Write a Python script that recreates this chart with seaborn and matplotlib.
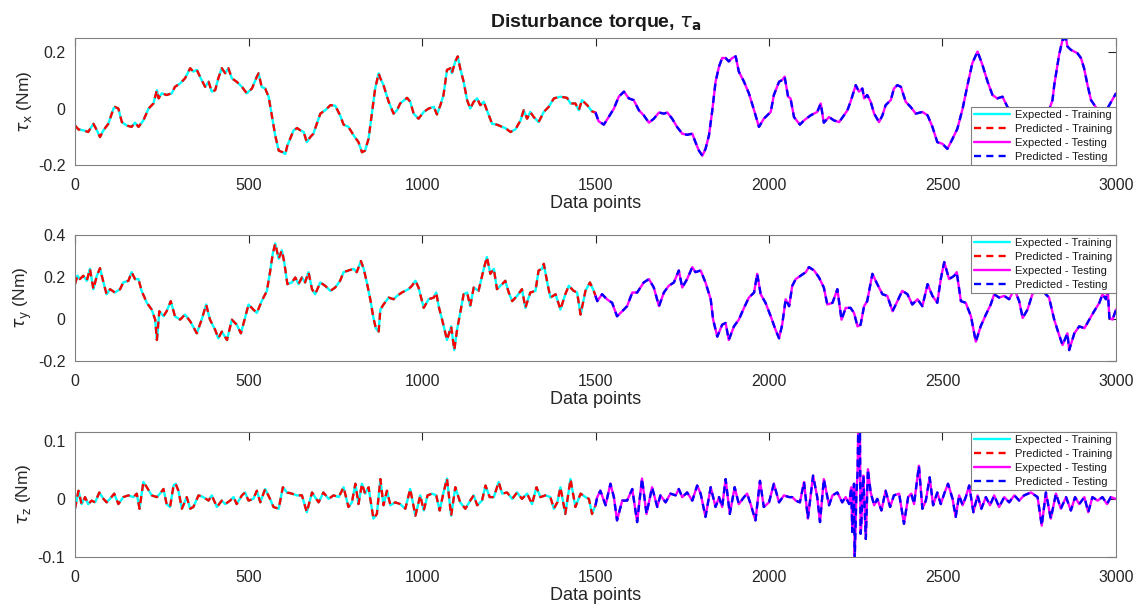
import numpy as np
import pandas as pd
import matplotlib
matplotlib.use("Agg")
import matplotlib.pyplot as plt
import seaborn as sns
from matplotlib.ticker import FormatStrFormatter

# ---------------- data ----------------
split_point = 1500

tx_idx = [0, 10, 24, 38, 53, 63, 72, 82, 96, 111, 115, 125, 135, 149, 163, 173, 183, 197, 212, 226, 236, 241, 250, 264, 279, 288, 303, 317, 332, 341, 351, 365, 375, 385, 394, 404, 413, 423, 433, 442, 452, 466, 481, 495, 510, 524, 529, 538, 548, 558, 567, 577, 587, 599, 606, 612, 620, 630, 640, 649, 659, 668, 678, 687, 697, 707, 721, 736, 750, 764,
          774, 788, 803, 817, 827, 836, 846, 856, 865, 875, 880, 889, 904, 918, 928, 937, 957, 966, 976, 990, 1005, 1019, 1034, 1043, 1053, 1062, 1072, 1082, 1086, 1096, 1103, 1110, 1120, 1130, 1139, 1149, 1159, 1168, 1178, 1187, 1202, 1216, 1231, 1240, 1255, 1269, 1284, 1293, 1303, 1312, 1322, 1336, 1351, 1365, 1380, 1399, 1418, 1428, 1442, 1452, 1461, 1476, 1490, 1500,
          1509, 1524, 1538, 1553, 1567, 1582, 1596, 1610, 1625, 1639, 1654, 1668, 1683, 1697, 1707, 1721, 1735, 1750, 1764, 1779, 1788, 1798, 1808, 1817, 1827, 1836, 1846, 1856, 1865, 1875, 1884, 1894, 1904, 1913, 1928, 1942, 1957, 1971, 1985, 2005, 2014, 2029, 2038, 2045, 2055, 2062, 2072, 2089, 2101, 2120, 2139, 2149, 2158, 2173, 2187, 2202, 2216, 2226, 2235, 2250,
          2259, 2269, 2274, 2283, 2293, 2303, 2317, 2327, 2336, 2351, 2360, 2370, 2380, 2394, 2408, 2423, 2442, 2457, 2471, 2485, 2500, 2514, 2529, 2543, 2558, 2572, 2586, 2601, 2615, 2630, 2644, 2658, 2673, 2687, 2710, 2740, 2770, 2800, 2817, 2822, 2836, 2846, 2856, 2860, 2870, 2889, 2899, 2908, 2918, 2928, 2950, 2975, 3000]
tx_val = [-0.060, -0.074, -0.077, -0.083, -0.054, -0.077, -0.101, -0.077, -0.054, 0.000, 0.006, 0.000, -0.048, -0.060, -0.065, -0.050, -0.065, -0.042, 0.000, 0.018, 0.065, 0.036, 0.054, 0.048, 0.054, 0.077, 0.089, 0.107, 0.143, 0.131, 0.137, 0.101, 0.077, 0.095, 0.060, 0.065, 0.107, 0.143, 0.125, 0.143, 0.107, 0.095, 0.077, 0.054, 0.071, 0.113, 0.125, 0.077, 0.071, 0.042, -0.024, -0.095, -0.149, -0.155, -0.161, -0.131, -0.107, -0.077, -0.069, -0.077, -0.083, -0.119, -0.101, -0.089, -0.054, -0.018, -0.006, 0.012, 0.010, -0.024,
          -0.057, -0.065, -0.095, -0.119, -0.155, -0.149, -0.107, -0.012, 0.071, 0.125, 0.107, 0.083, 0.024, -0.018, -0.006, 0.018, 0.038, 0.024, -0.018, -0.036, -0.012, 0.000, 0.006, -0.021, 0.012, 0.048, 0.137, 0.143, 0.125, 0.167, 0.185, 0.143, 0.095, 0.030, 0.000, 0.024, 0.036, 0.012, 0.024, -0.006, -0.054, -0.057, -0.065, -0.069, -0.083, -0.074, -0.042, -0.006, -0.036, -0.012, -0.030, -0.048, -0.012, 0.006, 0.036, 0.042, 0.038, 0.018, 0.018, -0.006, 0.030, 0.012, -0.010, -0.014,
          -0.045, -0.057, -0.030, 0.000, 0.042, 0.060, 0.036, 0.030, -0.006, -0.024, -0.050, -0.036, -0.014, -0.018, -0.014, -0.036, -0.065, -0.089, -0.093, -0.089, -0.119, -0.149, -0.167, -0.143, -0.095, -0.012, 0.095, 0.149, 0.179, 0.179, 0.167, 0.179, 0.185, 0.131, 0.095, 0.054, -0.006, -0.065, -0.036, -0.012, 0.048, 0.095, 0.101, 0.113, 0.042, 0.036, -0.030, -0.057, -0.042, -0.024, -0.012, 0.018, -0.050, -0.030, -0.042, -0.048, -0.024, -0.006, 0.024, 0.083,
          0.060, 0.071, 0.036, 0.048, 0.024, -0.018, -0.048, -0.024, 0.012, 0.030, 0.071, 0.083, 0.077, 0.024, 0.006, -0.018, -0.012, -0.024, -0.065, -0.119, -0.125, -0.143, -0.107, -0.071, 0.000, 0.083, 0.161, 0.202, 0.155, 0.095, 0.048, 0.036, 0.042, 0.006, -0.030, -0.060, -0.070, -0.030, 0.030, 0.083, 0.190, 0.244, 0.248, 0.220, 0.208, 0.196, 0.179, 0.143, 0.083, 0.030, -0.010, 0.000, 0.054]

ty_idx = [0, 7, 14, 24, 34, 43, 53, 63, 72, 82, 91, 101, 115, 130, 139, 154, 163, 173, 183, 192, 207, 221, 231, 236, 243, 255, 264, 276, 288, 303, 317, 332, 351, 365, 378, 389, 404, 413, 423, 438, 452, 466, 478, 490, 500, 514, 524, 538, 553, 562, 570, 577, 587, 596, 603, 612, 625, 635, 644, 654, 663, 673, 683, 692, 707, 721, 736, 750, 764,
          774, 788, 803, 812, 824, 832, 841, 851, 860, 867, 875, 880, 889, 904, 918, 928, 942, 961, 971, 981, 990, 1005, 1019, 1034, 1041, 1048, 1058, 1072, 1084, 1093, 1101, 1110, 1120, 1130, 1139, 1149, 1163, 1178, 1187, 1197, 1207, 1216, 1231, 1240, 1250, 1260, 1274, 1288, 1298, 1312, 1327, 1336, 1346, 1351, 1361, 1370, 1385, 1399, 1413, 1423, 1437, 1447, 1457, 1471, 1484, 1495, 1500,
          1505, 1519, 1533, 1548, 1562, 1577, 1591, 1606, 1620, 1639, 1654, 1668, 1683, 1697, 1711, 1726, 1740, 1750, 1764, 1779, 1788, 1803, 1817, 1832, 1839, 1851, 1865, 1875, 1884, 1899, 1913, 1928, 1942, 1957, 1966, 1976, 1990, 2005, 2019, 2029, 2038, 2048, 2058, 2067, 2077, 2091, 2106, 2115, 2130, 2144, 2158, 2168, 2183, 2197, 2209, 2221, 2235,
          2245, 2255, 2264, 2274, 2283, 2298, 2312, 2327, 2341, 2356, 2370, 2384, 2399, 2413, 2428, 2442, 2457, 2471, 2485, 2495, 2505, 2519, 2534, 2541, 2553, 2567, 2582, 2596, 2610, 2625, 2639, 2649, 2663, 2678, 2692, 2707, 2721, 2731, 2745, 2759, 2774, 2793, 2807, 2822, 2836, 2846, 2860, 2865, 2880, 2894, 2909, 2923, 2937, 2952, 2961, 2971, 2976, 2981, 2990, 3000]
ty_val = [0.166, 0.206, 0.190, 0.206, 0.182, 0.239, 0.142, 0.206, 0.242, 0.174, 0.118, 0.142, 0.126, 0.142, 0.174, 0.182, 0.223, 0.190, 0.190, 0.134, 0.077, 0.045, -0.003, -0.100, 0.037, 0.013, 0.037, 0.085, 0.013, -0.003, 0.021, -0.011, -0.068, -0.003, 0.069, -0.003, -0.052, -0.092, -0.060, -0.100, -0.003, -0.027, -0.068, 0.005, 0.069, 0.045, 0.029, 0.085, 0.134, 0.223, 0.311, 0.360, 0.287, 0.327, 0.271, 0.166, 0.174, 0.198, 0.166, 0.198, 0.174, 0.223, 0.142, 0.118, 0.174, 0.158, 0.134, 0.150, 0.182,
          0.223, 0.231, 0.239, 0.223, 0.276, 0.239, 0.174, 0.094, 0.005, -0.044, -0.060, 0.045, 0.069, 0.102, 0.094, 0.110, 0.126, 0.142, 0.158, 0.182, 0.150, 0.053, 0.094, 0.102, 0.126, 0.061, -0.003, -0.100, -0.035, -0.148, -0.052, 0.029, 0.118, 0.126, 0.061, 0.150, 0.134, 0.239, 0.295, 0.215, 0.239, 0.142, 0.166, 0.182, 0.126, 0.085, 0.110, 0.142, 0.053, 0.126, 0.134, 0.231, 0.239, 0.263, 0.174, 0.102, 0.118, 0.045, 0.118, 0.158, 0.134, 0.126, 0.021, 0.134, 0.174, 0.134, 0.110,
          0.085, 0.118, 0.094, 0.077, 0.013, 0.037, 0.061, 0.126, 0.126, 0.174, 0.190, 0.150, 0.061, 0.126, 0.158, 0.174, 0.231, 0.150, 0.190, 0.247, 0.223, 0.231, 0.174, 0.094, -0.003, -0.084, -0.027, -0.019, -0.100, -0.035, -0.003, 0.053, 0.102, 0.126, 0.215, 0.118, 0.077, 0.013, -0.052, -0.092, -0.027, 0.094, 0.061, 0.158, 0.190, 0.206, 0.223, 0.247, 0.231, 0.198, 0.150, 0.069, 0.077, 0.142, -0.003, 0.053, 0.053,
          0.029, -0.035, -0.027, 0.061, 0.085, 0.215, 0.166, 0.118, 0.110, 0.037, 0.085, 0.134, 0.118, 0.069, 0.094, 0.061, 0.166, 0.110, 0.077, 0.190, 0.271, 0.190, 0.206, 0.223, 0.085, 0.077, 0.013, -0.108, -0.035, 0.021, 0.069, 0.118, 0.102, 0.110, 0.094, 0.142, 0.085, 0.005, 0.045, 0.118, 0.142, 0.126, 0.102, -0.003, -0.076, -0.124, -0.068, -0.148, -0.068, -0.035, -0.044, -0.003, 0.037, 0.077, 0.118, 0.094, 0.142, 0.005, -0.003, 0.045]

tz_idx = [0, 10, 19, 29, 38, 48, 58, 70, 82, 91, 101, 113, 125, 139, 154, 168, 178, 186, 197, 207, 221, 236, 245, 255, 264, 274, 284, 290, 298, 308, 322, 332, 341, 356, 370, 385, 394, 409, 423, 433, 447, 457, 466, 481, 490, 500, 514, 524, 534, 548, 562, 572, 587, 599, 611, 625, 639, 654, 668, 683, 692, 702, 716, 731, 745,
          760, 774, 788, 798, 808, 817, 827, 836, 846, 851, 860, 870, 880, 889, 899, 909, 923, 937, 952, 966, 981, 995, 1005, 1016, 1029, 1041, 1051, 1062, 1072, 1084, 1096, 1110, 1125, 1139, 1149, 1159, 1173, 1183, 1195, 1207, 1221, 1231, 1245, 1260, 1274, 1288, 1303, 1317, 1330, 1341, 1356, 1370, 1380, 1390, 1399, 1413, 1428, 1442, 1457, 1471, 1481, 1490, 1500,
          1505, 1514, 1529, 1543, 1553, 1562, 1577, 1591, 1606, 1620, 1634, 1647, 1663, 1678, 1687, 1702, 1716, 1731, 1740, 1750, 1764, 1779, 1793, 1803, 1817, 1832, 1846, 1856, 1865, 1875, 1887, 1901, 1913, 1928, 1937, 1947, 1961, 1974, 1985, 2000, 2014, 2029, 2043, 2058, 2067, 2077, 2089, 2101, 2112, 2127, 2139, 2147, 2158, 2173, 2183, 2197, 2211, 2221, 2231,
          2237, 2240, 2245, 2247, 2252, 2255, 2257, 2259, 2262, 2264, 2266, 2270, 2272, 2279, 2285, 2293, 2303, 2312, 2324, 2336, 2349, 2360, 2375, 2389, 2401, 2410, 2418, 2426, 2432, 2442, 2452, 2463, 2473, 2485, 2495, 2505, 2516, 2529, 2538, 2548, 2558, 2567, 2577, 2589, 2601, 2612, 2625, 2637, 2649, 2663, 2678, 2692, 2707, 2721, 2735, 2755, 2774, 2786, 2798, 2812, 2827, 2841, 2856, 2870, 2882, 2894, 2909, 2920, 2932, 2947, 2961, 2974, 2985, 3000]
tz_val = [-0.017, 0.014, -0.009, 0.003, -0.009, -0.003, -0.006, 0.011, 0.000, -0.006, 0.000, 0.009, -0.009, 0.003, 0.006, 0.003, 0.009, -0.017, 0.029, 0.020, 0.006, 0.003, 0.009, 0.017, -0.009, -0.014, 0.023, 0.026, 0.014, -0.017, 0.003, -0.017, -0.014, 0.006, 0.003, -0.003, 0.006, -0.014, -0.003, -0.009, -0.003, 0.003, -0.009, 0.006, 0.011, -0.003, 0.000, 0.014, -0.006, 0.017, 0.000, -0.014, -0.017, 0.020, 0.011, 0.009, 0.006, 0.006, -0.023, 0.011, 0.003, -0.006, 0.011, 0.000, 0.006,
          0.003, 0.020, -0.014, -0.006, 0.026, -0.009, 0.026, 0.009, 0.020, 0.000, -0.034, -0.026, 0.034, -0.011, 0.014, -0.011, -0.006, -0.009, -0.017, 0.017, -0.029, 0.006, -0.020, 0.006, 0.009, 0.006, -0.020, 0.011, 0.035, -0.029, 0.020, -0.006, -0.017, -0.003, 0.006, -0.011, -0.003, 0.023, 0.003, 0.003, 0.029, 0.009, 0.011, 0.000, 0.011, 0.000, 0.009, -0.009, 0.020, 0.003, 0.006, 0.003, -0.017, -0.006, 0.020, -0.026, 0.034, -0.014, 0.009, 0.003, 0.000, -0.026, -0.011,
          0.003, 0.014, -0.011, 0.026, 0.003, -0.037, -0.003, -0.003, 0.017, -0.040, 0.035, -0.026, 0.020, -0.014, 0.006, -0.006, 0.009, 0.006, 0.017, 0.003, 0.011, -0.003, 0.023, 0.009, -0.031, 0.020, -0.014, 0.003, -0.014, 0.034, -0.026, 0.020, -0.009, 0.003, 0.009, -0.009, -0.037, 0.031, -0.014, -0.006, 0.026, -0.006, 0.006, 0.003, 0.003, -0.003, -0.006, 0.029, -0.034, 0.040, 0.003, -0.040, 0.034, -0.011, 0.006, 0.011, -0.006, 0.003, -0.009,
          0.020, -0.057, 0.026, -0.103, 0.011, 0.040, 0.114, 0.050, 0.126, -0.060, -0.046, 0.020, 0.040, -0.069, 0.051, 0.011, -0.011, 0.000, -0.020, 0.014, -0.014, 0.006, 0.009, -0.043, 0.003, 0.009, -0.009, 0.029, 0.057, -0.017, -0.003, 0.037, -0.011, 0.011, -0.009, 0.009, 0.026, 0.000, -0.031, 0.006, -0.011, 0.003, 0.023, -0.023, 0.006, -0.017, 0.003, -0.011, 0.006, -0.014, 0.003, -0.006, 0.006, -0.003, 0.006, 0.011, 0.003, -0.046, 0.011, -0.034, 0.009, -0.017, 0.003, -0.020, 0.003, -0.009, 0.003, -0.023, 0.003, -0.003, 0.003, -0.009, 0.003, 0.000]

ylabels = [r"$\tau_{\mathrm{x}}$ (Nm)", r"$\tau_{\mathrm{y}}$ (Nm)", r"$\tau_{\mathrm{z}}$ (Nm)"]
ylims = [(-0.2, 0.25), (-0.2, 0.4), (-0.1, 0.115)]
yticks = [[-0.2, 0, 0.2], [-0.2, 0, 0.2, 0.4], [-0.1, 0, 0.1]]
xticks = [0, 500, 1000, 1500, 2000, 2500, 3000]
series_names = ["Expected - Training", "Predicted - Training", "Expected - Testing", "Predicted - Testing"]
title = r"Disturbance torque, $\tau_{\mathbf{a}}$"

# ---------------- styling ----------------
sns.set_style("white")
plt.rcParams["font.family"] = ["Liberation Sans", "DejaVu Sans"]
plt.rcParams["mathtext.fontset"] = "dejavusans"
plt.rcParams["axes.unicode_minus"] = False

grey = "#262626"
colors = ["#00FFFF", "#FF0000", "#FF00FF", "#0000FF"]

fig = plt.figure(figsize=(11.47, 6.15), dpi=100)
left, width = 75 / 1147, 1041 / 1147
boxes = [(165, 127), (361, 126), (557, 125)]
axes = [fig.add_axes([left, 1 - b / 615, width, h / 615]) for b, h in boxes]

panels = [(tx_idx, tx_val), (ty_idx, ty_val), (tz_idx, tz_val)]
for i, (ax, (idx, val)) in enumerate(zip(axes, panels)):
    df = pd.DataFrame({"idx": idx, "val": val})
    train = df[df["idx"] <= split_point]
    test = df[df["idx"] >= split_point]
    parts = [(train, "-"), (train, "--"), (test, "-"), (test, "--")]
    for (d, ls), c, name in zip(parts, colors, series_names):
        line_kw = dict(linewidth=1.7)
        if ls == "--":
            line_kw["dashes"] = (3, 2.2)
        sns.lineplot(data=d, x="idx", y="val", ax=ax, color=c, label=name,
                     estimator=None, sort=False, **line_kw)
    ax.set_xlim(0, 3000)
    ax.set_ylim(*ylims[i])
    ax.set_xticks(xticks)
    ax.set_yticks(yticks[i])
    ax.yaxis.set_major_formatter(FormatStrFormatter("%g"))
    ax.set_xlabel("Data points", fontsize=13, color=grey, labelpad=2)
    ax.set_ylabel(ylabels[i], fontsize=12.5, color=grey, labelpad=3)
    ax.tick_params(direction="in", length=6, width=0.8, top=True, right=True,
                   labelsize=11.5, colors=grey)
    ax.tick_params(axis="x", pad=9)
    ax.tick_params(axis="y", pad=7)
    for s in ax.spines.values():
        s.set_visible(True)
        s.set_color("#808080")
        s.set_linewidth(0.8)
    loc = "lower right" if i == 0 else "upper right"
    leg = ax.legend(loc=loc, fontsize=8, frameon=True, fancybox=False,
                    framealpha=1, edgecolor="#808080", borderaxespad=0.0,
                    handlelength=3.2, labelspacing=0.35, borderpad=0.3,
                    handletextpad=0.5)
    leg.get_frame().set_linewidth(0.8)
    for t in leg.get_texts():
        t.set_color("#1a1a1a")

axes[0].set_title(title, fontsize=14, fontweight="bold", color="#1a1a1a", pad=8)

fig.savefig("out.png", dpi=100)
